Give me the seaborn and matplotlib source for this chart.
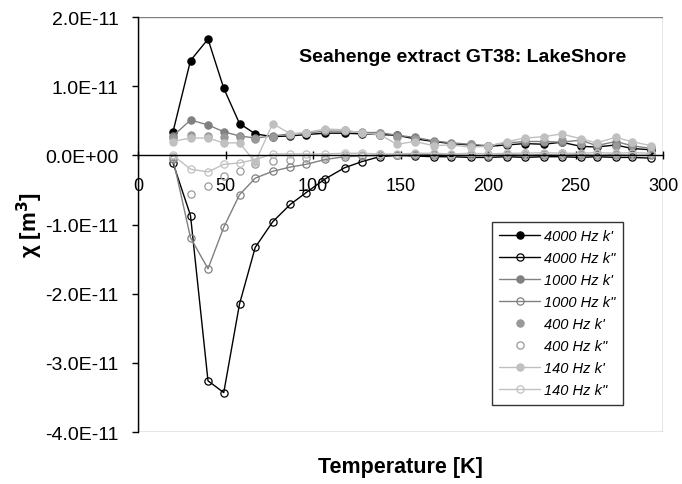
import numpy as np
import pandas as pd
import matplotlib
matplotlib.use("Agg")
import matplotlib.pyplot as plt
import seaborn as sns
from matplotlib.patches import Rectangle

# ---------------- data (values in units of 1e-11 m^3) ----------------
temperature = [20, 30, 40, 49, 58, 67, 77, 87, 96, 107, 118, 128, 138, 148,
               158, 169, 179, 190, 200, 211, 221, 232, 242, 253, 262, 273, 282, 293]

k1_4000 = [0.34, 1.37, 1.68, 0.97, 0.46, 0.31, 0.27, 0.28, 0.30, 0.32, 0.32, 0.31, 0.30, 0.29,
           0.24, 0.20, 0.17, 0.15, 0.13, 0.15, 0.17, 0.16, 0.19, 0.13, 0.12, 0.15, 0.10, 0.08]
k2_4000 = [-0.11, -0.87, -3.26, -3.43, -2.15, -1.33, -0.96, -0.71, -0.54, -0.34, -0.18, -0.09, -0.02, 0.0,
           -0.01, -0.02, -0.02, -0.03, -0.03, -0.02, -0.03, -0.02, -0.02, -0.03, -0.02, -0.03, -0.03, -0.04]
k1_1000 = [0.28, 0.51, 0.44, 0.34, 0.28, 0.25, 0.28, 0.31, 0.32, 0.35, 0.35, 0.33, 0.33, 0.29,
           0.26, 0.21, 0.18, 0.16, 0.14, 0.18, 0.20, 0.20, 0.19, 0.22, 0.14, 0.20, 0.14, 0.10]
k2_1000 = [-0.05, -1.19, -1.64, -1.04, -0.57, -0.33, -0.23, -0.17, -0.13, -0.06, -0.02, -0.01, 0.0, 0.0,
           0.01, 0.01, 0.0, 0.0, -0.01, 0.01, 0.0, 0.01, 0.0, 0.01, 0.0, 0.01, 0.0, 0.0]
k1_400 = [0.25, 0.30, 0.28, 0.26, 0.26, 0.24, 0.27, 0.30, 0.32, 0.36, 0.36, 0.34, 0.33, 0.27,
          0.24, 0.20, 0.17, 0.17, 0.13, 0.17, 0.22, 0.21, 0.22, 0.16, 0.17, 0.14, 0.16, 0.12]
k2_400 = [-0.03, -0.56, -0.44, -0.30, -0.22, -0.12, -0.08, -0.07, -0.04, -0.02, 0.0, 0.01, 0.02, 0.01,
          0.02, 0.02, 0.01, 0.01, 0.02, 0.02, 0.03, 0.02, 0.03, 0.02, 0.03, 0.02, 0.03, 0.02]
k1_140 = [0.20, 0.25, 0.25, 0.18, 0.18, -0.10, 0.46, 0.31, 0.33, 0.38, 0.37, 0.32, 0.30, 0.16,
          0.20, 0.14, 0.15, 0.12, 0.13, 0.20, 0.25, 0.27, 0.31, 0.24, 0.18, 0.26, 0.20, 0.14]
k2_140 = [0.0, -0.20, -0.24, -0.13, -0.11, -0.06, 0.02, 0.02, 0.02, 0.02, 0.03, 0.03, 0.02, 0.02,
          0.03, 0.03, 0.02, 0.03, 0.02, 0.03, 0.03, 0.04, 0.03, 0.03, 0.04, 0.03, 0.04, 0.03]

labels = ["4000 Hz k'", '4000 Hz k"', "1000 Hz k'", '1000 Hz k"',
          "400 Hz k'", '400 Hz k"', "140 Hz k'", '140 Hz k"']
series = [k1_4000, k2_4000, k1_1000, k2_1000, k1_400, k2_400, k1_140, k2_140]

yticks = [-4e-11, -3e-11, -2e-11, -1e-11, 0.0, 1e-11, 2e-11]
ytick_labels = ["-4.0E-11", "-3.0E-11", "-2.0E-11", "-1.0E-11", "0.0E+00", "1.0E-11", "2.0E-11"]
xticks = [0, 50, 100, 150, 200, 250, 300]
xtick_labels = ["0", "50", "100", "150", "200", "250", "300"]

# ---------------- styling ----------------
sns.set_theme(style="white")
plt.rcParams['font.family'] = ['Liberation Sans', 'DejaVu Sans']
plt.rcParams['text.color'] = 'black'
plt.rcParams['axes.labelcolor'] = 'black'
plt.rcParams['xtick.color'] = 'black'
plt.rcParams['ytick.color'] = 'black'

colors = ["#000000", "#000000", "#808080", "#808080", "#999999", "#999999", "#c0c0c0", "#c0c0c0"]
filled = [True, False, True, False, True, False, True, False]
lined = [True, True, True, True, False, False, True, True]

fig = plt.figure(figsize=(6.82, 4.85), dpi=100)
ax = fig.add_axes([138 / 682, 1 - 433 / 485, 525 / 682, 415 / 485])

for lab, vals, c, f, l in zip(labels, series, colors, filled, lined):
    df = pd.DataFrame({"T": temperature, "chi": np.array(vals) * 1e-11})
    sns.lineplot(data=df, x="T", y="chi", ax=ax, sort=False, label=lab,
                 color=c, linewidth=1.0 if l else 0, linestyle='-' if l else 'None',
                 marker='o', markersize=5.2,
                 markerfacecolor=c if f else 'none', markeredgecolor=c,
                 markeredgewidth=0.9)

ax.set_xlim(0, 300)
ax.set_ylim(-4e-11, 2e-11)

# spines
for s in ["top", "right"]:
    ax.spines[s].set_visible(False)
ax.spines["left"].set_color("black")
ax.spines["left"].set_linewidth(1.0)
ax.spines["bottom"].set_position(("data", 0))
ax.spines["bottom"].set_color("black")
ax.spines["bottom"].set_linewidth(1.0)
ax.add_patch(Rectangle((0, 0), 1, 1, transform=ax.transAxes, fill=False,
                       edgecolor="#808080", linewidth=1.0, zorder=0.5))

ax.set_yticks(yticks)
ax.set_yticklabels(ytick_labels)
ax.set_xticks(xticks)
ax.set_xticklabels(xtick_labels)
ax.tick_params(axis='y', which='both', left=True, direction='out', length=4,
               width=1, labelsize=14, pad=10, colors='black')
ax.tick_params(axis='x', which='both', bottom=True, direction='inout', length=6,
               width=1, labelsize=13, pad=12.5, colors='black')

ax.set_xlabel("Temperature [K]", fontsize=15.5, fontweight='bold', labelpad=0, color='black')
ax.set_ylabel("χ [m$^{\\mathbf{3}}$]", fontsize=16, fontweight='bold', color='black')
ax.xaxis.set_label_coords(0.5, -0.058)
ax.yaxis.set_label_coords(-0.178, 0.5)

ax.text(0.93, 0.905, "Seahenge extract GT38: LakeShore", transform=ax.transAxes,
        ha='right', va='center', fontsize=14, fontweight='bold', color='black')

leg = ax.legend(loc='upper right', bbox_to_anchor=(0.924, 0.506), borderaxespad=0,
                frameon=True, fancybox=False, shadow=False,
                labelspacing=0.55, handlelength=2.8, handletextpad=0.3,
                borderpad=0.5, prop={'style': 'italic', 'size': 10.5})
leg.get_frame().set_edgecolor('black')
leg.get_frame().set_linewidth(1.0)
leg.get_frame().set_facecolor('white')
for t in leg.get_texts():
    t.set_color('black')

fig.savefig("out.png", dpi=100, facecolor='white')
